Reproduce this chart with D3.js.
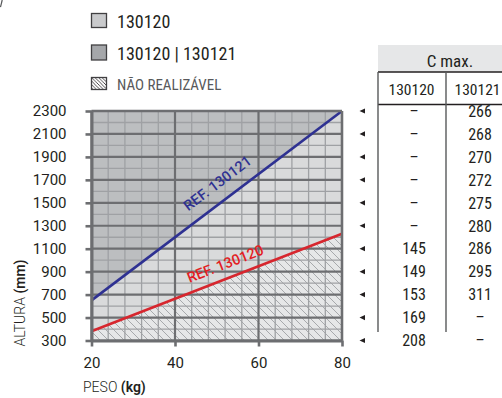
<!DOCTYPE html>
<html><head><meta charset="utf-8">
<script src="https://cdn.jsdelivr.net/npm/d3@7"></script>
<style>body{margin:0;background:#fff}svg{display:block}</style>
</head><body>
<svg id="c" width="502" height="398"></svg>
<script>
// ---------- data ----------
const xDomain = [20, 80];             // PESO (kg)
const yDomain = [300, 2300];          // ALTURA (mm)
const xTicks = [20, 40, 60, 80];
const yTicks = [2300, 2100, 1900, 1700, 1500, 1300, 1100, 900, 700, 500, 300];
const ref130121 = [[20, 650], [80, 2300]];   // blue line (kg, mm)
const ref130120 = [[20, 380], [80, 1230]];   // red line (kg, mm)
const legendLabels = ["130120", "130120 | 130121", "NÃO REALIZÁVEL"];
const tableTitle = "C max.";
const tableCols = ["130120", "130121"];
const cmax130120 = ["–", "–", "–", "–", "–", "–", "145", "149", "153", "169", "208"];
const cmax130121 = ["266", "268", "270", "272", "275", "280", "286", "295", "311", "–", "–"];

// ---------- setup ----------
const svg = d3.select("#c");
const x = d3.scaleLinear().domain(xDomain).range([91.5, 342]);
const y = d3.scaleLinear().domain(yDomain).range([340.5, 111]);
const ink = "#231f20", gridDark = "#6d6e71", gridLight = "#9fa1a4";
const narrow = "'Liberation Sans Narrow','Roboto Condensed',Roboto,sans-serif";
const sans = "Roboto,'Noto Sans',sans-serif";

const defs = svg.append("defs");
const pat = defs.append("pattern").attr("id", "hatch").attr("patternUnits", "userSpaceOnUse")
  .attr("width", 8).attr("height", 8);
pat.append("rect").attr("width", 8).attr("height", 8).attr("fill", "#e6e7e8");
pat.append("path").attr("d", "M0,0L8,8M-1,7L1,9M7,-1L9,1")
  .attr("stroke", "#a7a9ac").attr("stroke-width", 1);
const pat2 = defs.append("pattern").attr("id", "hatch2").attr("patternUnits", "userSpaceOnUse")
  .attr("width", 3.5).attr("height", 3.5);
pat2.append("rect").attr("width", 3.5).attr("height", 3.5).attr("fill", "#fff");
pat2.append("path").attr("d", "M0,0L3.5,3.5M-1,2.5L1,4.5M2.5,-1L4.5,1")
  .attr("stroke", "#231f20").attr("stroke-width", 0.8);

// ---------- regions ----------
const poly = pts => d3.line()(pts.map(p => [x(p[0]), y(p[1])])) + "Z";
const [b0, b1] = ref130121, [r0, r1] = ref130120;
svg.append("path").attr("d", poly([b0, b1, [xDomain[0], yDomain[1]]])).attr("fill", "#bcbec0");
svg.append("path").attr("d", poly([b0, b1, [xDomain[1], yDomain[1]], r1, r0])).attr("fill", "#d9dadb");
svg.append("path").attr("d", poly([r0, r1, [xDomain[1], yDomain[0]], [xDomain[0], yDomain[0]]])).attr("fill", "url(#hatch)");

// ---------- grid ----------
const grid = svg.append("g");
const minorX = d3.range(20, 81, 4).filter(v => v % 20 !== 0);
const minorY = d3.range(300, 2301, 100).filter(v => (v - 300) % 200 !== 0);
grid.selectAll(".mx").data(minorX).join("line")
  .attr("x1", d => x(d)).attr("x2", d => x(d)).attr("y1", y(yDomain[0])).attr("y2", y(yDomain[1]))
  .attr("stroke", gridLight).attr("stroke-width", 1.3);
grid.selectAll(".my").data(minorY).join("line")
  .attr("x1", x(xDomain[0])).attr("x2", x(xDomain[1])).attr("y1", d => y(d)).attr("y2", d => y(d))
  .attr("stroke", gridLight).attr("stroke-width", 1.3);
grid.selectAll(".Mx").data(xTicks).join("line")
  .attr("x1", d => x(d)).attr("x2", d => x(d)).attr("y1", y(yDomain[0])).attr("y2", y(yDomain[1]))
  .attr("stroke", gridDark).attr("stroke-width", 2.2);
grid.selectAll(".My").data(yTicks).join("line")
  .attr("x1", x(xDomain[0])).attr("x2", x(xDomain[1])).attr("y1", d => y(d)).attr("y2", d => y(d))
  .attr("stroke", gridDark).attr("stroke-width", 2.2);

// ---------- lines ----------
const lineGen = d3.line().x(d => x(d[0])).y(d => y(d[1]));
svg.append("path").attr("d", lineGen(ref130121)).attr("stroke", "#2e3192").attr("stroke-width", 2.6).attr("fill", "none");
svg.append("path").attr("d", lineGen(ref130120)).attr("stroke", "#d7262e").attr("stroke-width", 2.6).attr("fill", "none");

function lineLabel(pts, kg, off, txt, color) {
  const [p0, p1] = pts;
  const mm = p0[1] + (p1[1] - p0[1]) * (kg - p0[0]) / (p1[0] - p0[0]);
  const ang = Math.atan2(y(p1[1]) - y(p0[1]), x(p1[0]) - x(p0[0])) * 180 / Math.PI;
  svg.append("text").attr("transform", `translate(${x(kg)},${y(mm)}) rotate(${ang})`)
    .attr("y", -off).attr("text-anchor", "middle").attr("fill", color)
    .attr("font-family", sans).attr("font-size", 14.5).attr("font-weight", 500).text(txt);
}
lineLabel(ref130121, 52.7, 12.5, "REF. 130121", "#2e3192");
lineLabel(ref130120, 53.3, 9.4, "REF. 130120", "#e31e24");

// ---------- axes ----------
const yAxis = d3.axisLeft(y).tickValues(yTicks).tickFormat(d3.format("d")).tickSize(6).tickPadding(19).tickSizeOuter(0);
const gy = svg.append("g").attr("transform", `translate(${x(xDomain[0])},0)`).call(yAxis);
const xAxis = d3.axisBottom(x).tickValues(xTicks).tickFormat(d3.format("d")).tickSize(6).tickPadding(11).tickSizeOuter(0);
const gx = svg.append("g").attr("transform", `translate(0,${y(yDomain[0])})`).call(xAxis);
[gx, gy].forEach(g => {
  g.select(".domain").attr("stroke", gridDark).attr("stroke-width", 3);
  g.selectAll(".tick line").attr("stroke", gridDark).attr("stroke-width", 2.6);
  g.selectAll(".tick text").attr("fill", ink).attr("font-family", sans).attr("font-size", 15);
});
// top/right frame
svg.append("line").attr("x1", x(xDomain[0])).attr("x2", x(xDomain[1])).attr("y1", y(yDomain[1])).attr("y2", y(yDomain[1]))
  .attr("stroke", gridDark).attr("stroke-width", 2.4);
svg.append("line").attr("x1", x(xDomain[1])).attr("x2", x(xDomain[1])).attr("y1", y(yDomain[1])).attr("y2", y(yDomain[0]))
  .attr("stroke", gridDark).attr("stroke-width", 2.4);

// axis titles
const yt = svg.append("text").attr("transform", "translate(25,303) rotate(-90)").attr("text-anchor", "middle")
  .attr("font-family", sans).attr("font-size", 14).attr("fill", ink);
yt.append("tspan").attr("font-weight", 300).text("ALTURA ");
yt.append("tspan").attr("font-weight", 600).text("(mm)");
const xt = svg.append("text").attr("x", 83).attr("y", 392)
  .attr("font-family", sans).attr("font-size", 14).attr("fill", ink);
xt.append("tspan").attr("font-weight", 300).text("PESO ");
xt.append("tspan").attr("font-weight", 600).text("(kg)");

// ---------- legend ----------
const leg = [
  {y: 13.5, h: 14, fill: "#c9cacc", base: 28, size: 18, color: ink},
  {y: 45, h: 15, fill: "#a5a7aa", base: 60, size: 18, color: ink},
  {y: 77.5, h: 12, fill: "url(#hatch2)", base: 90, size: 15, color: "#58595b"}
];
leg.forEach((l, i) => {
  svg.append("rect").attr("x", 91.5).attr("y", l.y).attr("width", 15).attr("height", l.h)
    .attr("fill", l.fill).attr("stroke", "#414042").attr("stroke-width", 1.3);
  svg.append("text").attr("x", 117).attr("y", l.base).attr("font-family", narrow)
    .attr("font-size", l.size).attr("fill", l.color).text(legendLabels[i]);
});

// ---------- table ----------
svg.append("rect").attr("x", 378).attr("y", 45).attr("width", 124).attr("height", 27).attr("fill", "#e6e7e8");
svg.append("text").attr("x", 450).attr("y", 66.5).attr("text-anchor", "middle").attr("font-family", narrow)
  .attr("font-size", 17).attr("fill", ink).text(tableTitle);
[72, 104.5].forEach(yy => svg.append("line").attr("x1", 378).attr("x2", 502).attr("y1", yy).attr("y2", yy)
  .attr("stroke", ink).attr("stroke-width", 1.4));
[378, 446].forEach(xx => svg.append("line").attr("x1", xx).attr("x2", xx).attr("y1", 72).attr("y2", 332)
  .attr("stroke", "#58595b").attr("stroke-width", 1.4));
const colX = [411.5, 477.5];
tableCols.forEach((c, i) => svg.append("text").attr("x", colX[i]).attr("y", 94.5).attr("text-anchor", "middle")
  .attr("font-family", narrow).attr("font-size", 15.5).attr("fill", ink).text(c));
const rows = svg.append("g");
yTicks.forEach((t, i) => {
  const yy = y(t);
  rows.append("path").attr("d", `M365,${yy - 2.6}L359.5,${yy}L365,${yy + 2.6}Z`).attr("fill", ink);
  [cmax130120[i], cmax130121[i]].forEach((v, j) => rows.append("text").attr("x", colX[j] + 2.5).attr("y", yy)
    .attr("dy", "0.36em").attr("text-anchor", "middle").attr("font-family", narrow)
    .attr("font-size", 16).attr("fill", ink).text(v));
});

// small fragment in top-left corner
svg.append("line").attr("x1", 0.5).attr("y1", 7).attr("x2", 2.2).attr("y2", 0).attr("stroke", "#58595b").attr("stroke-width", 1.2);
</script>
</body></html>
